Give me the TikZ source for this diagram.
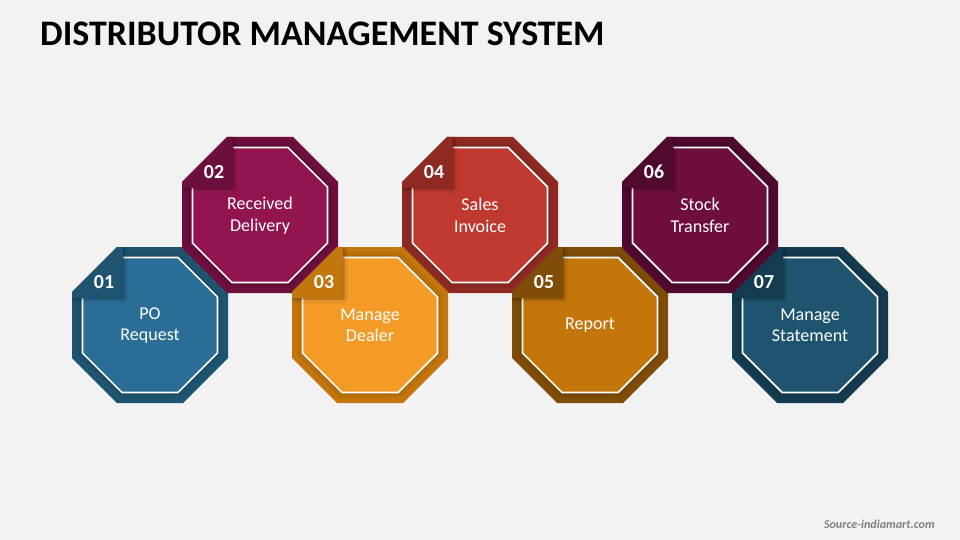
\documentclass[tikz,border=0pt]{standalone}
\usepackage{fontspec}
\setmainfont{Carlito}
\usetikzlibrary{shadows.blur}

\definecolor{bgcol}{HTML}{F2F2F2}
\definecolor{blueA}{HTML}{2A6D96}
\definecolor{blueB}{HTML}{1F5470}
\definecolor{plumA}{HTML}{921552}
\definecolor{plumB}{HTML}{6C0F3D}
\definecolor{amberA}{HTML}{F49B27}
\definecolor{amberB}{HTML}{C3760B}
\definecolor{redA}{HTML}{C0392F}
\definecolor{redB}{HTML}{8F2A23}
\definecolor{ochreA}{HTML}{C4760B}
\definecolor{ochreB}{HTML}{7F4D07}
\definecolor{wineA}{HTML}{6D0E3D}
\definecolor{wineB}{HTML}{4F0A2D}
\definecolor{navyA}{HTML}{1F5470}
\definecolor{navyB}{HTML}{153B50}

\tikzset{
  octaout/.style={fill=#1},
  octain/.style={fill=#1, draw=white, line width=1.5pt,
    blur shadow={shadow xshift=0pt, shadow yshift=0pt, shadow blur radius=4pt, shadow opacity=35}},
  tabnum/.style={fill=#1, blur shadow={shadow xshift=1pt, shadow yshift=-1pt, shadow blur radius=2.5pt, shadow opacity=40}},
  numlabel/.style={text=white, font=\fontsize{17}{18}\selectfont\bfseries},
  steplabel/.style={text=white, align=center, font=\fontsize{15.4}{18.3}\selectfont}
}

% octagon outline: x, y, half width, half side
\newcommand{\octpath}[4]{
  (#1-#4,#2-#3) -- (#1+#4,#2-#3) -- (#1+#3,#2-#4) -- (#1+#3,#2+#4)
  -- (#1+#4,#2+#3) -- (#1-#4,#2+#3) -- (#1-#3,#2+#4) -- (#1-#3,#2-#4) -- cycle
}

% one octagon: name, x, y, light colour, dark colour, number, label
\newcommand{\octagon}[7]{
  \fill[octaout=#5] \octpath{#2}{#3}{78}{33};
  \begin{scope}
    \clip \octpath{#2}{#3}{78}{33};
    \draw[octain=#4] \octpath{#2}{#3}{67.5}{28};
    \fill[tabnum=#5] (#2-33,#3-78) -- (#2-27,#3-78) -- (#2-27,#3-27) -- (#2-78,#3-27) -- (#2-78,#3-33) -- cycle;
  \end{scope}
  \node[numlabel] (#1num) at (#2-46,#3-43) {#6};
  \node[steplabel] (#1txt) at (#2,#3+0.5) {#7};
}

\begin{document}
\begin{tikzpicture}[x=0.03cm,y=-0.03cm]

%%    BACKGROUND    %%
\fill[bgcol] (0,0) rectangle (960,540);
\useasboundingbox (0,0) rectangle (960,540);

%%    TITLE    %%
\node[anchor=west, inner sep=0pt, font=\fontsize{30.66}{36}\selectfont\bfseries] (title) at (40,34) {DISTRIBUTOR MANAGEMENT SYSTEM};
\node[anchor=east, inner sep=0pt, text=black!50, font=\fontsize{10.3}{12}\selectfont\bfseries\itshape] (source) at (935,524) {Source-indiamart.com};

%%    OCTAGONS    %%
\octagon{one}{150}{325}{blueA}{blueB}{01}{PO\\Request}
\octagon{two}{260}{215}{plumA}{plumB}{02}{Received\\Delivery}
\octagon{four}{480}{215}{redA}{redB}{04}{Sales\\Invoice}
\octagon{three}{370}{325}{amberA}{amberB}{03}{Manage\\Dealer}
\octagon{five}{590}{325}{ochreA}{ochreB}{05}{Report}
\octagon{seven}{810}{325}{navyA}{navyB}{07}{Manage\\Statement}
\octagon{six}{700}{215}{wineA}{wineB}{06}{Stock\\Transfer}

\end{tikzpicture}
\end{document}
